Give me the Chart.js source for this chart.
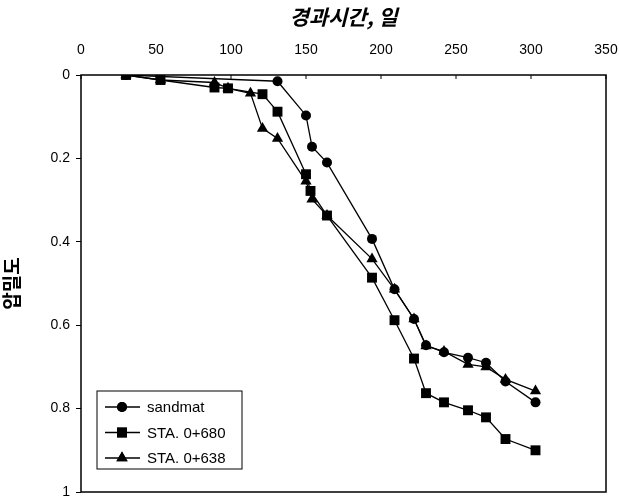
<!DOCTYPE html>
<html>
<head>
    <title>압밀도 - 경과시간</title>
    <script src="https://cdn.jsdelivr.net/npm/chart.js"></script>
    <style>
        body { margin: 0; background: #fff; }
    </style>
</head>
<body>
    <canvas id="consolChart" width="619" height="499"></canvas>

    <script>
        // days elapsed / degree of consolidation
        const sandmatDays = [30, 131, 150, 154, 164, 194, 209, 222, 230, 242, 258, 270, 283, 303];
        const sandmatU    = [0, 0.015, 0.097, 0.172, 0.21, 0.393, 0.514, 0.585, 0.648, 0.665, 0.678, 0.69, 0.735, 0.785];

        const sta680Days = [30, 53, 89, 98, 121, 131, 150, 153, 164, 194, 209, 222, 230, 242, 258, 270, 283, 303];
        const sta680U    = [0, 0.012, 0.03, 0.032, 0.046, 0.088, 0.238, 0.278, 0.337, 0.486, 0.588, 0.68, 0.763, 0.785, 0.804, 0.821, 0.873, 0.9];

        const sta638Days = [30, 53, 89, 98, 113, 121, 131, 150, 154, 164, 194, 209, 222, 230, 242, 258, 270, 283, 303];
        const sta638U    = [0, 0.012, 0.018, 0.032, 0.044, 0.128, 0.152, 0.255, 0.298, 0.337, 0.441, 0.514, 0.585, 0.65, 0.663, 0.694, 0.70, 0.73, 0.758];

        const seriesNames = ['sandmat', 'STA. 0+680', 'STA. 0+638'];
        const xTitle = '경과시간, 일';
        const yTitle = '압밀도';

        const toPoints = (xs, ys) => xs.map((x, i) => ({ x: x, y: ys[i] }));

        const baseStyle = {
            borderColor: '#000',
            backgroundColor: '#000',
            borderWidth: 1.3,
            pointBorderWidth: 0,
            fill: false,
            tension: 0
        };

        // box round the plot, inside ticks on the top axis, and the legend
        const framePlugin = {
            id: 'frame',
            afterDraw(chart) {
                const ctx = chart.ctx;
                const a = chart.chartArea;
                const xs = chart.scales.x;
                ctx.save();
                ctx.strokeStyle = '#000';
                ctx.lineWidth = 1.5;
                ctx.strokeRect(a.left, a.top, a.right - a.left, a.bottom - a.top);
                ctx.lineWidth = 1;
                xs.ticks.forEach(t => {
                    const px = xs.getPixelForValue(t.value);
                    ctx.beginPath();
                    ctx.moveTo(px, a.top);
                    ctx.lineTo(px, a.top + 4);
                    ctx.stroke();
                });

                // legend
                const lx = 97, ly = 391, lw = 145, lh = 78;
                ctx.fillStyle = '#fff';
                ctx.fillRect(lx, ly, lw, lh);
                ctx.lineWidth = 1;
                ctx.strokeRect(lx, ly, lw, lh);
                ctx.font = '15px "Liberation Sans", Arial, sans-serif';
                ctx.textBaseline = 'middle';
                chart.data.datasets.forEach((ds, i) => {
                    const cy = ly + 16 + i * 25.5;
                    ctx.strokeStyle = '#000';
                    ctx.lineWidth = 1.3;
                    ctx.beginPath();
                    ctx.moveTo(lx + 8, cy);
                    ctx.lineTo(lx + 43, cy);
                    ctx.stroke();
                    ctx.fillStyle = '#000';
                    Chart.helpers.drawPoint(ctx, {
                        pointStyle: ds.pointStyle,
                        radius: ds.pointRadius,
                        borderWidth: 0
                    }, lx + 25, cy);
                    ctx.fill();
                    ctx.fillText(ds.label, lx + 50, cy + 1);
                });
                ctx.restore();
            }
        };

        const ctx = document.getElementById('consolChart').getContext('2d');
        new Chart(ctx, {
            type: 'line',
            data: {
                datasets: [
                    Object.assign({ label: seriesNames[0], data: toPoints(sandmatDays, sandmatU), pointStyle: 'circle', pointRadius: 5 }, baseStyle),
                    Object.assign({ label: seriesNames[1], data: toPoints(sta680Days, sta680U), pointStyle: 'rect', pointRadius: 7 }, baseStyle),
                    Object.assign({ label: seriesNames[2], data: toPoints(sta638Days, sta638U), pointStyle: 'triangle', pointRadius: 6.5 }, baseStyle)
                ]
            },
            options: {
                responsive: false,
                animation: false,
                devicePixelRatio: 1,
                layout: { padding: { left: 0, top: 0, right: 13, bottom: 6 } },
                plugins: {
                    legend: { display: false },
                    tooltip: { enabled: false }
                },
                scales: {
                    x: {
                        type: 'linear',
                        position: 'top',
                        min: 0,
                        max: 350,
                        afterFit: s => { s.height = 75; s.paddingLeft = 0; s.paddingRight = 0; },
                        ticks: {
                            stepSize: 50,
                            color: '#000',
                            padding: 8,
                            maxRotation: 0,
                            font: { family: '"Liberation Sans", Arial, sans-serif', size: 14 }
                        },
                        grid: { display: false },
                        border: { display: false },
                        title: {
                            display: true,
                            text: xTitle,
                            color: '#000',
                            padding: { top: 4, bottom: 0 },
                            font: { family: '"Noto Sans CJK KR", sans-serif', size: 21, weight: 'bold', style: 'italic' }
                        }
                    },
                    y: {
                        type: 'linear',
                        reverse: true,
                        min: 0,
                        max: 1,
                        afterFit: s => { s.width = 81; s.paddingTop = 0; s.paddingBottom = 0; },
                        ticks: {
                            stepSize: 0.2,
                            color: '#000',
                            padding: 6,
                            font: { family: '"Liberation Sans", Arial, sans-serif', size: 14 },
                            callback: v => String(Math.round(v * 10) / 10)
                        },
                        grid: { drawOnChartArea: false, drawTicks: true, tickLength: 5, color: '#000' },
                        border: { display: false },
                        title: {
                            display: true,
                            text: yTitle,
                            color: '#000',
                            padding: { top: 0, bottom: 0 },
                            font: { family: '"Noto Sans CJK KR", sans-serif', size: 19, weight: 'bold' }
                        }
                    }
                }
            },
            plugins: [framePlugin]
        });
    </script>
</body>
</html>
